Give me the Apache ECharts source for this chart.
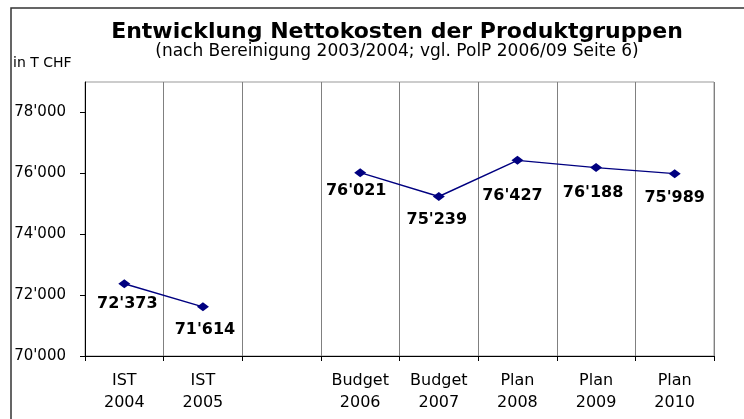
<!DOCTYPE html>
<html>
<head>
<meta charset="utf-8">
<script src="https://cdn.jsdelivr.net/npm/echarts@6/dist/echarts.min.js"></script>
<style>
  html, body { margin: 0; padding: 0; background: #fff; }
  #chart { width: 744px; height: 419px; }
</style>
</head>
<body>
<div id="chart"></div>
<script>
// Kategorien (leere Spalte zwischen IST und Budget)
const categories = ['IST\n2004', 'IST\n2005', '', 'Budget\n2006', 'Budget\n2007', 'Plan\n2008', 'Plan\n2009', 'Plan\n2010']
// Nettokosten in T CHF
const nettokosten = [72373, 71614, null, 76021, 75239, 76427, 76188, 75989]
// Achse
const yMin = 70000
const yMax = 79000
const yStep = 2000

// Position der Datenbeschriftung relativ zum Punkt
const labelOffsets = [[3, 20], [2, 23], [0, 0], [-4, 18], [-2, 23], [-5, 36], [-3, 25], [0, 24]]

function fmt(v) {
  return String(v).replace(/\B(?=(\d{3})+(?!\d))/g, "'")
}

const font = 'DejaVu Sans'
const myChart = echarts.init(document.getElementById('chart'))

myChart.setOption({
  animation: false,
  backgroundColor: '#fff',
  grid: {
    left: 85,
    right: 30,
    top: 82,
    bottom: 63,
    show: true,
    borderColor: '#999',
    borderWidth: 1
  },
  xAxis: {
    type: 'category',
    data: categories,
    boundaryGap: true,
    axisLine: { lineStyle: { color: '#000', width: 1 } },
    axisTick: { show: true, interval: 0, length: 5, lineStyle: { color: '#000' } },
    splitLine: { show: true, interval: 0, lineStyle: { color: '#808080', width: 1 } },
    axisLabel: {
      interval: 0,
      margin: 14,
      color: '#000',
      fontFamily: font,
      fontSize: 16,
      lineHeight: 22
    }
  },
  yAxis: {
    type: 'value',
    min: yMin,
    max: yMax,
    interval: yStep,
    axisLine: { show: true, lineStyle: { color: '#000', width: 1 } },
    axisTick: { show: true, length: 5, lineStyle: { color: '#000' } },
    splitLine: { show: false },
    axisLabel: {
      showMaxLabel: false,
      margin: 19,
      color: '#000',
      fontFamily: font,
      fontSize: 15,
      formatter: fmt
    }
  },
  series: [{
    type: 'line',
    data: nettokosten.map((v, i) => ({
      value: v,
      label: { offset: labelOffsets[i] }
    })),
    connectNulls: false,
    symbol: 'diamond',
    symbolSize: [12, 9],
    lineStyle: { color: '#000080', width: 1.4 },
    itemStyle: { color: '#000080' },
    label: {
      show: true,
      position: 'inside',
      color: '#000',
      fontFamily: font,
      fontWeight: 'bold',
      fontSize: 16,
      formatter: (p) => fmt(p.value)
    }
  }],
  graphic: [
    {
      type: 'rect',
      shape: { x: 11, y: 8, width: 800, height: 500 },
      style: { fill: 'none', stroke: '#333', lineWidth: 1.5 },
      silent: true
    },
    {
      type: 'text',
      x: 397,
      y: 32,
      style: {
        text: 'Entwicklung Nettokosten der Produktgruppen',
        fill: '#000',
        font: 'bold 22px "DejaVu Sans"',
        align: 'center',
        verticalAlign: 'middle'
      }
    },
    {
      type: 'text',
      x: 397,
      y: 52,
      style: {
        text: '(nach Bereinigung 2003/2004; vgl. PolP 2006/09 Seite 6)',
        fill: '#000',
        font: '17px "DejaVu Sans"',
        align: 'center',
        verticalAlign: 'middle'
      }
    },
    {
      type: 'text',
      x: 13,
      y: 63,
      style: {
        text: 'in T CHF',
        fill: '#000',
        font: '14px "DejaVu Sans"',
        align: 'left',
        verticalAlign: 'middle'
      }
    }
  ]
})
</script>
</body>
</html>
